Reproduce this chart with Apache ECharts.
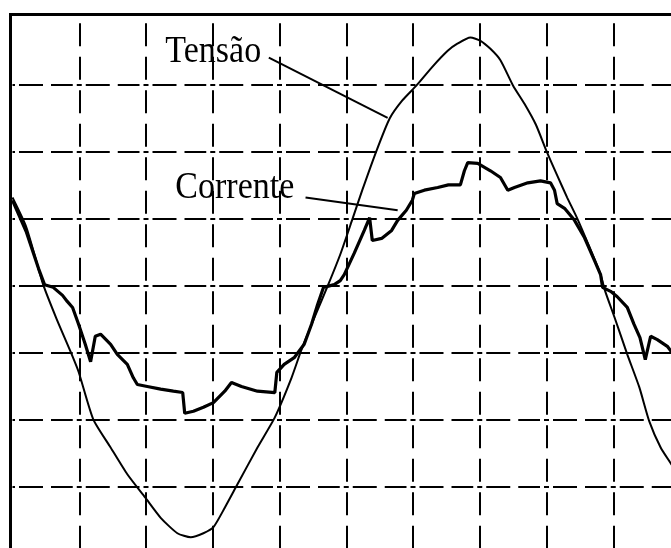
<!DOCTYPE html>
<html><head><meta charset="utf-8">
<script src="https://cdn.jsdelivr.net/npm/echarts@6/dist/echarts.min.js"></script>
<style>html,body{margin:0;padding:0;background:#fff}#c{width:671px;height:548px}</style>
</head><body><div id="c"></div>
<script>
// Values in screen divisions (x: 0..10, y: -4..4, 0 = centre line)
const tensaoData = [
  [0.00,1.32],[0.21,0.87],[0.46,0.02],[0.66,-0.49],[0.87,-0.98],[0.99,-1.28],[1.21,-1.99],
  [1.47,-2.41],[1.72,-2.81],[1.99,-3.16],[2.22,-3.46],[2.47,-3.69],[2.67,-3.75],[2.86,-3.69],
  [3.01,-3.60],[3.18,-3.31],[3.37,-2.96],[3.67,-2.41],[3.93,-1.96],[4.18,-1.37],[4.34,-0.92],
  [4.54,-0.43],[4.73,0.02],[4.91,0.47],[5.09,0.99],[5.24,1.43],[5.45,2.01],[5.65,2.50],
  [5.84,2.77],[6.05,2.99],[6.28,3.26],[6.52,3.51],[6.67,3.62],[6.86,3.71],[7.01,3.66],
  [7.16,3.54],[7.31,3.37],[7.50,2.99],[7.67,2.72],[7.84,2.41],[8.01,1.99],[8.16,1.65],
  [8.31,1.32],[8.46,1.01],[8.64,0.59],[8.81,0.17],[8.88,-0.08],[9.02,-0.47],[9.21,-1.02],
  [9.39,-1.51],[9.54,-2.02],[9.71,-2.41],[9.87,-2.66],[10.0,-2.87]
];
const correnteData = [
  [0.00,1.28],[0.21,0.80],[0.39,0.26],[0.48,0.02],[0.61,-0.02],[0.75,-0.14],[0.82,-0.23],
  [0.90,-0.32],[0.99,-0.57],[1.09,-0.87],[1.17,-1.13],[1.24,-0.75],[1.32,-0.72],[1.47,-0.87],
  [1.57,-1.02],[1.72,-1.17],[1.81,-1.37],[1.87,-1.47],[2.02,-1.50],[2.22,-1.54],[2.41,-1.57],
  [2.55,-1.59],[2.58,-1.90],[2.71,-1.87],[2.86,-1.81],[3.01,-1.74],[3.18,-1.57],[3.28,-1.44],
  [3.43,-1.50],[3.67,-1.57],[3.93,-1.59],[3.96,-1.29],[4.07,-1.17],[4.22,-1.07],[4.37,-0.87],
  [4.48,-0.57],[4.57,-0.28],[4.66,-0.02],[4.82,0.02],[4.91,0.08],[4.97,0.17],[5.12,0.49],
  [5.27,0.83],[5.35,1.02],[5.39,0.68],[5.53,0.71],[5.68,0.83],[5.77,0.98],[5.90,1.13],
  [5.99,1.28],[6.02,1.38],[6.17,1.43],[6.37,1.47],[6.53,1.51],[6.71,1.51],[6.77,1.72],
  [6.82,1.84],[6.97,1.83],[7.16,1.72],[7.31,1.62],[7.42,1.43],[7.52,1.47],[7.72,1.54],
  [7.91,1.57],[8.06,1.54],[8.12,1.43],[8.16,1.23],[8.27,1.16],[8.42,0.98],[8.57,0.72],
  [8.72,0.38],[8.81,0.17],[8.84,-0.02],[8.96,-0.08],[9.06,-0.16],[9.21,-0.32],[9.31,-0.57],
  [9.40,-0.77],[9.48,-1.10],[9.56,-0.75],[9.66,-0.80],[9.81,-0.90],[9.87,-0.98],[10.0,-1.05]
];
const labelText = ['Tensão', 'Corrente'];
const labelPos = [[2.29, 3.49], [2.44, 1.47]];
const tensaoLeader = [[3.84, 3.41], [5.62, 2.51]];
const correnteLeader = [[4.39, 1.32], [5.77, 1.13]];

const chart = echarts.init(document.getElementById('c'), null, {renderer: 'canvas'});
const hidden = {axisLine:{show:false}, axisTick:{show:false}, axisLabel:{show:false}};
const option = {
  animation: false,
  backgroundColor: '#fff',
  grid: {left: 12.5, top: 18, width: 667.5, height: 536, outerBoundsMode: 'none', containLabel: false},
  xAxis: Object.assign({type:'value', min:0, max:10, interval:1,
    splitLine:{show:true, showMinLine:false, showMaxLine:false,
      lineStyle:{color:'#000', width:2, type:[23,10.5], dashOffset:28.25}}}, hidden),
  yAxis: Object.assign({type:'value', min:-4, max:4, interval:1,
    splitLine:{show:true, showMinLine:false, showMaxLine:false,
      lineStyle:{color:'#000', width:2, type:[5,4,24,8,21.75,4], dashOffset:2.5}}}, hidden),
  series: [
    {type:'line', name:'Tensão', data:tensaoData, symbol:'none', smooth:0.2, z:3,
     lineStyle:{color:'#000', width:2}, silent:true,
     markLine:{silent:true, symbol:['none','none'], label:{show:false},
       lineStyle:{type:'solid', color:'#000', width:2},
       data:[
         [{coord:tensaoLeader[0]}, {coord:tensaoLeader[1]}],
         [{coord:correnteLeader[0]}, {coord:correnteLeader[1]}]
       ]}},
    {type:'line', name:'Corrente', data:correnteData, symbol:'none', z:4,
     lineStyle:{color:'#000', width:3.2}, silent:true}
  ]
};
chart.setOption(option);
const graphics = labelText.map(function(t, i) {
  const p = chart.convertToPixel({gridIndex:0}, labelPos[i]);
  return {type:'text', x:p[0], y:p[1], scaleY:1.12, z:10,
    style:{text:t, fill:'#000', font:'34px "Liberation Serif"', align:'left', verticalAlign:'middle',
      textAlign:'left', textVerticalAlign:'middle'}};
});
graphics.push({type:'polyline', z:10, shape:{points:[[10.5,560],[10.5,14.5],[680,14.5]]},
  style:{stroke:'#000', lineWidth:3, fill:null}});
chart.setOption({graphic: graphics});
</script></body></html>
